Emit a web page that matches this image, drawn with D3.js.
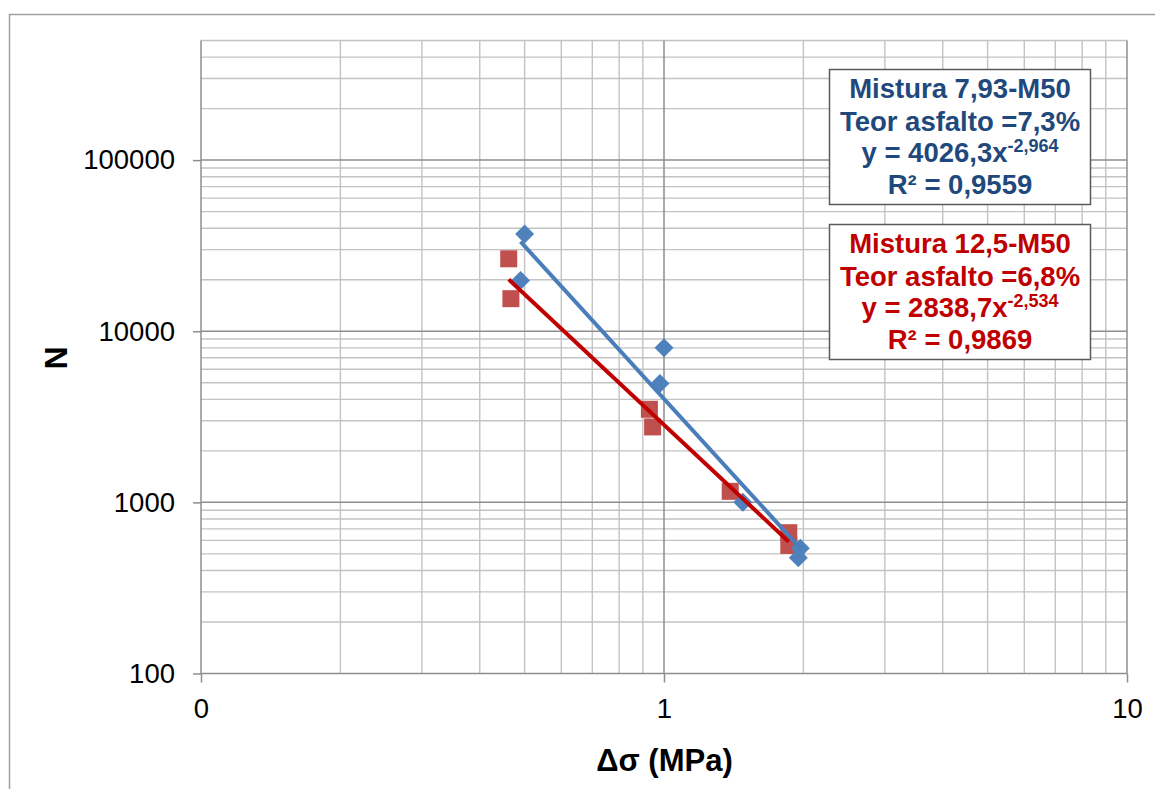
<!DOCTYPE html>
<html>
<head>
<meta charset="utf-8">
<script src="https://cdn.jsdelivr.net/npm/d3@7"></script>
<style>
  html, body { margin: 0; padding: 0; background: #fff; }
  svg { display: block; font-family: "Liberation Sans", Arial, sans-serif; }
</style>
</head>
<body>
<svg id="chart" width="1155" height="789"></svg>
<script>
// Fatigue data: load cycles N versus stress amplitude Δσ (MPa)
const blueX = [0.50, 0.49, 1.00, 0.98, 1.48, 1.97, 1.95];
const blueN = [37000, 19800, 8000, 4950, 1000, 540, 475];
const redX  = [0.462, 0.467, 0.93, 0.945, 1.39, 1.86, 1.86];
const redN  = [26500, 15500, 3500, 2760, 1160, 665, 560];

// Power-law fits y = a·x^b
const blueFit = [4026.3, -2.964];
const redFit  = [2838.7, -2.534];

const blueLabel = ["Mistura 7,93-M50", "Teor asfalto =7,3%", "y = 4026,3x", "-2,964", "R² = 0,9559"];
const redLabel  = ["Mistura 12,5-M50", "Teor asfalto =6,8%", "y = 2838,7x", "-2,534", "R² = 0,9869"];

const xTickValues = [0.1, 1, 10];
const xTickLabels = ["0", "1", "10"];
const yTickValues = [100, 1000, 10000, 100000];
const yTickLabels = ["100", "1000", "10000", "100000"];

const svg = d3.select("#chart");

const x = d3.scaleLog().domain([0.1, 10]).range([201, 1127]);
const y = d3.scaleLog().domain([100, 500000]).range([673.5, 40.5]);

// outer chart frame
svg.append("rect")
  .attr("x", 9.5).attr("y", 14.5).attr("width", 1200).attr("height", 800)
  .attr("fill", "none").attr("stroke", "#a0a0a0").attr("stroke-width", 1.5);

const grid = svg.append("g");
const isDecade = v => Math.abs(Math.log10(v) - Math.round(Math.log10(v))) < 1e-9;

// minor grid first, decades on top
const xGrid = x.ticks().filter(v => v > 0.1 + 1e-9);
const yGrid = y.ticks().filter(v => v > 100 + 1e-9 && v <= 500000);

grid.selectAll("line.vmin").data(xGrid.filter(v => !isDecade(v))).join("line")
  .attr("x1", d => x(d)).attr("x2", d => x(d)).attr("y1", y(500000)).attr("y2", y(100))
  .attr("stroke", "#c3c3c3").attr("stroke-width", 1.4);
grid.selectAll("line.hmin").data(yGrid.filter(v => !isDecade(v))).join("line")
  .attr("x1", x(0.1)).attr("x2", x(10)).attr("y1", d => y(d)).attr("y2", d => y(d))
  .attr("stroke", "#c3c3c3").attr("stroke-width", 1.4);
grid.selectAll("line.vmaj").data(xGrid.filter(isDecade)).join("line")
  .attr("x1", d => x(d)).attr("x2", d => x(d)).attr("y1", y(500000)).attr("y2", y(100))
  .attr("stroke", "#8e8e8e").attr("stroke-width", 1.5);
grid.selectAll("line.hmaj").data(yGrid.filter(isDecade)).join("line")
  .attr("x1", x(0.1)).attr("x2", x(10)).attr("y1", d => y(d)).attr("y2", d => y(d))
  .attr("stroke", "#8e8e8e").attr("stroke-width", 1.5);

// axes
const yAxis = d3.axisLeft(y).tickValues(yTickValues).tickSize(8)
  .tickFormat((d, i) => yTickLabels[i]).tickPadding(18);
const gy = svg.append("g").attr("transform", `translate(${x(0.1)},0)`).call(yAxis);
const xAxis = d3.axisBottom(x).tickValues(xTickValues).tickSize(9)
  .tickFormat((d, i) => xTickLabels[i]).tickPadding(16);
const gx = svg.append("g").attr("transform", `translate(0,${y(100)})`).call(xAxis);

[gx, gy].forEach(g => {
  g.select(".domain").attr("stroke", "#8e8e8e").attr("stroke-width", 1.5);
  g.selectAll(".tick line").attr("stroke", "#8e8e8e").attr("stroke-width", 1.5);
  g.selectAll(".tick text").attr("fill", "#000").attr("font-size", 27.5)
    .attr("font-family", "Liberation Sans, Arial, sans-serif");
});
gy.select(".domain").attr("d", `M0,${y(500000)}V${y(100)}`);
gx.select(".domain").attr("d", `M${x(0.1)},0H${x(10)}`);

// axis titles
svg.append("text").attr("x", 664.5).attr("y", 771).attr("text-anchor", "middle")
  .attr("font-size", 31).attr("font-weight", "bold").attr("fill", "#000")
  .text("Δσ (MPa)");
svg.append("text").attr("transform", "translate(67,358) rotate(-90)")
  .attr("text-anchor", "middle").attr("font-size", 32).attr("font-weight", "bold")
  .attr("fill", "#000").text("N");

// markers
const redPts = redX.map((v, i) => [v, redN[i]]);
const bluePts = blueX.map((v, i) => [v, blueN[i]]);
const sq = 17;
svg.append("g").selectAll("rect").data(redPts).join("rect")
  .attr("x", d => x(d[0]) - sq / 2).attr("y", d => y(d[1]) - sq / 2)
  .attr("width", sq).attr("height", sq).attr("fill", "#c0504d");
const dm = 9.5;
svg.append("g").selectAll("path").data(bluePts).join("path")
  .attr("d", d => {
    const cx = x(d[0]), cy = y(d[1]);
    return `M${cx},${cy - dm}L${cx + dm},${cy}L${cx},${cy + dm}L${cx - dm},${cy}Z`;
  })
  .attr("fill", "#4f81bd");

// fitted trend lines across each series' range
function fitLine(xs, fit) {
  const lo = d3.min(xs), hi = d3.max(xs);
  return [[lo, fit[0] * Math.pow(lo, fit[1])], [hi, fit[0] * Math.pow(hi, fit[1])]];
}
const line = d3.line().x(d => x(d[0])).y(d => y(d[1]));
svg.append("path").attr("d", line(fitLine(blueX, blueFit)))
  .attr("stroke", "#4a7ebb").attr("stroke-width", 4).attr("fill", "none");
svg.append("path").attr("d", line(fitLine(redX, redFit)))
  .attr("stroke", "#c00000").attr("stroke-width", 4).attr("fill", "none");

// equation boxes
function eqBox(top, lbl, color) {
  const g = svg.append("g");
  g.append("rect").attr("x", 829.5).attr("y", top + 0.5).attr("width", 261).attr("height", 135)
    .attr("fill", "#fff").attr("stroke", "#5a5a5a").attr("stroke-width", 1.5);
  const cx = 960;
  const offs = [28.5, 61.5, 92.5, 124.5];
  const t = g.append("g").attr("fill", color).attr("font-weight", "bold")
    .attr("font-size", 27.5).attr("text-anchor", "middle");
  t.append("text").attr("x", cx).attr("y", top + offs[0]).text(lbl[0]);
  t.append("text").attr("x", cx).attr("y", top + offs[1]).text(lbl[1]);
  const eq = t.append("text").attr("x", cx).attr("y", top + offs[2]);
  eq.append("tspan").text(lbl[2]);
  eq.append("tspan").attr("font-size", 18).attr("dy", -10).text(lbl[3]);
  t.append("text").attr("x", cx).attr("y", top + offs[3]).text(lbl[4]);
}
eqBox(69, blueLabel, "#1f497d");
eqBox(224, redLabel, "#c00000");
</script>
</body>
</html>
